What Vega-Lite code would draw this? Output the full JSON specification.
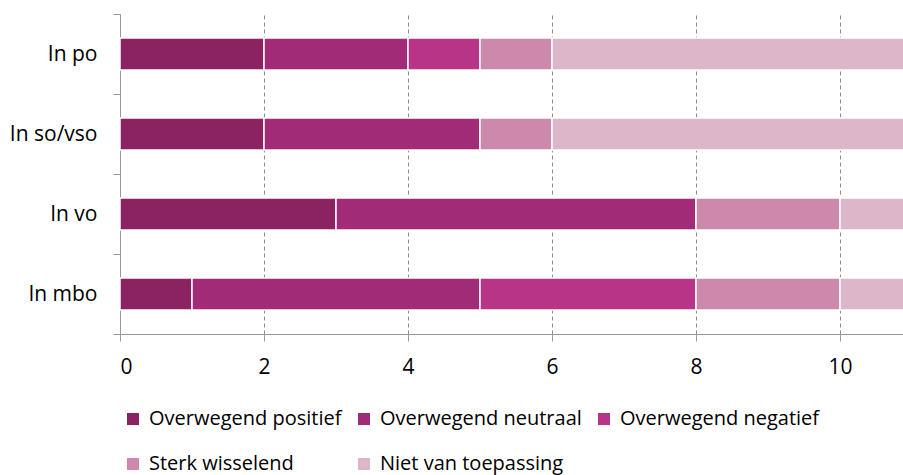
{
  "$schema": "https://vega.github.io/schema/vega-lite/v6.json",
  "autosize": {"type": "none"},
  "padding": {"left": 120, "top": 14, "right": 0, "bottom": 141},
  "width": 783,
  "height": 320,
  "background": "white",
  "config": {
    "view": {"stroke": null},
    "font": "Open Sans"
  },
  "data": {
    "values": [
      {"category": "In po", "response": "Overwegend positief", "order": 1, "value": 2},
      {"category": "In po", "response": "Overwegend neutraal", "order": 2, "value": 2},
      {"category": "In po", "response": "Overwegend negatief", "order": 3, "value": 1},
      {"category": "In po", "response": "Sterk wisselend", "order": 4, "value": 1},
      {"category": "In po", "response": "Niet van toepassing", "order": 5, "value": 5},
      {"category": "In so/vso", "response": "Overwegend positief", "order": 1, "value": 2},
      {"category": "In so/vso", "response": "Overwegend neutraal", "order": 2, "value": 3},
      {"category": "In so/vso", "response": "Overwegend negatief", "order": 3, "value": 0},
      {"category": "In so/vso", "response": "Sterk wisselend", "order": 4, "value": 1},
      {"category": "In so/vso", "response": "Niet van toepassing", "order": 5, "value": 5},
      {"category": "In vo", "response": "Overwegend positief", "order": 1, "value": 3},
      {"category": "In vo", "response": "Overwegend neutraal", "order": 2, "value": 5},
      {"category": "In vo", "response": "Overwegend negatief", "order": 3, "value": 0},
      {"category": "In vo", "response": "Sterk wisselend", "order": 4, "value": 2},
      {"category": "In vo", "response": "Niet van toepassing", "order": 5, "value": 1},
      {"category": "In mbo", "response": "Overwegend positief", "order": 1, "value": 1},
      {"category": "In mbo", "response": "Overwegend neutraal", "order": 2, "value": 4},
      {"category": "In mbo", "response": "Overwegend negatief", "order": 3, "value": 3},
      {"category": "In mbo", "response": "Sterk wisselend", "order": 4, "value": 2},
      {"category": "In mbo", "response": "Niet van toepassing", "order": 5, "value": 1}
    ]
  },
  "mark": {"type": "bar", "stroke": "white", "strokeWidth": 1.5, "clip": true, "height": {"band": 0.4}},
  "encoding": {
    "y": {
      "field": "category",
      "type": "nominal",
      "sort": ["In po", "In so/vso", "In vo", "In mbo"],
      "scale": {"paddingInner": 0, "paddingOuter": 0},
      "axis": {
        "title": null,
        "tickBand": "extent",
        "domainColor": "#999999",
        "tickColor": "#999999",
        "tickSize": 7,
        "labelFontSize": 21,
        "labelColor": "#000000",
        "labelPadding": 16,
        "grid": false
      }
    },
    "x": {
      "field": "value",
      "type": "quantitative",
      "aggregate": "sum",
      "stack": "zero",
      "scale": {"domain": [0, 10.875], "nice": false},
      "axis": {
        "title": null,
        "values": [0, 2, 4, 6, 8, 10],
        "domainColor": "#999999",
        "tickColor": "#999999",
        "tickSize": 7,
        "grid": true,
        "gridColor": "#8c8c8c",
        "gridDash": [4, 3],
        "gridWidth": 1,
        "labelFontSize": 21,
        "labelColor": "#000000",
        "labelPadding": 15
      }
    },
    "color": {
      "field": "response",
      "type": "nominal",
      "scale": {
        "domain": ["Overwegend positief", "Overwegend neutraal", "Overwegend negatief", "Sterk wisselend", "Niet van toepassing"],
        "range": ["#8B2363", "#A22B77", "#B83486", "#CC89AB", "#DDB6C9"]
      },
      "legend": {
        "title": null,
        "orient": "none",
        "legendX": 3,
        "legendY": 395,
        "direction": "horizontal",
        "columns": 3,
        "gridAlign": "each",
        "symbolType": "square",
        "symbolSize": 144,
        "symbolStrokeWidth": 0,
        "labelFontSize": 20,
        "labelColor": "#000000",
        "labelOffset": 6,
        "columnPadding": 12,
        "rowPadding": 25,
        "labelLimit": 400
      }
    },
    "order": {"field": "order", "type": "quantitative"}
  }
}
